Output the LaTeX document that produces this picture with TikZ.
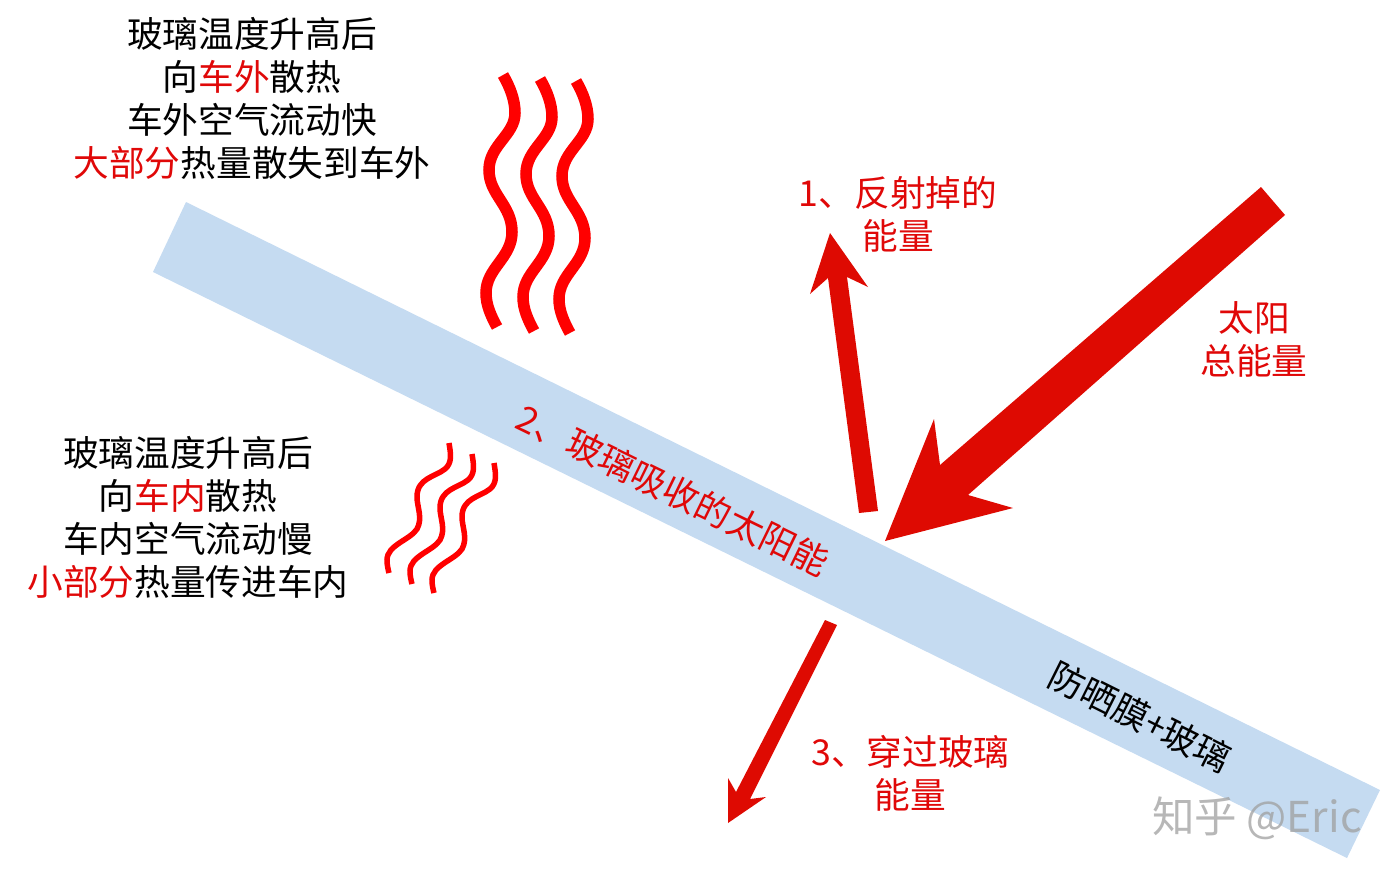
\documentclass[tikz,border=0pt]{standalone}
\usepackage{fontspec}
\setmainfont{Noto Sans CJK SC}
\usepackage{xcolor}
\definecolor{filmblue}{HTML}{C5DBF1}
\definecolor{arrowred}{HTML}{DE0A02}
\definecolor{textred}{HTML}{E00808}
\definecolor{heatred}{HTML}{FF0000}
\newcommand{\hot}[1]{\textcolor{textred}{#1}}
\tikzset{
    note/.style={inner sep=0pt,align=center,font=\fontsize{35.7}{43}\selectfont},
    rednote/.style={note,text=textred},
    bigwave/.style={draw=heatred,line width=11.5pt},
    smallwave/.style={draw=heatred,line width=5.5pt},
    ray/.style={fill=arrowred}
}
\begin{document}
\begin{tikzpicture}[x=1pt,y=-1pt]
    \useasboundingbox (0,0) rectangle (1397,876);
    \fill[filmblue] (186,202)--(153,272)--(1347,858)--(1380,790)--cycle;
    % heat going out
    \foreach \u/\v in {0/0,37/4,73/6}{
            \draw[bigwave,shift={(\u,\v)}] (503,75) .. controls (510,87) and (515,100) .. (515,113) .. controls (515,135) and (489,145) .. (489,170) .. controls (489,195) and (512,205) .. (512,232) .. controls (512,258) and (486,268) .. (486,293) .. controls (486,305) and (491,316) .. (497,327);
        }
    % heat going in
    \foreach \u/\v in {0/0,23/11,45/20}{
            \draw[smallwave,shift={(\u,\v)}] (449,443) .. controls (451,455) and (452,463) .. (445,469) .. controls (435,477) and (417,478) .. (417,497) .. controls (417,507) and (423,518) .. (417,529) .. controls (410,540) and (387,545) .. (387,560) .. controls (387,565) and (388,569) .. (389,573);
        }
    % the three rays
    \fill[ray] (1261,187)--(1285,215)--(968,495)--(1013,508)--(885,541)--(934,419)--(940,465)--cycle;
    \fill[ray] (859,513)--(878,511)--(847,277)--(868,287)--(830,233)--(810,294)--(828,278)--cycle;
    \fill[ray] (825,620)--(837,625)--(750,799)--(766,797)--(728,823)--(728,778)--(736,792)--cycle;
    % labels
    \node[note] (outnote) at (252,98) {玻璃温度升高后\\向\hot{车外}散热\\车外空气流动快\\\hot{大部分}热量散失到车外};
    \node[note] (innote) at (188,517) {玻璃温度升高后\\向\hot{车内}散热\\车内空气流动慢\\\hot{小部分}热量传进车内};
    \node[rednote] (reflected) at (898,214) {1、反射掉的\\能量};
    \node[rednote] (sun) at (1254,339.5) {太阳\\总能量};
    \node[rednote] (passed) at (910.5,773) {3、穿过玻璃\\能量};
    \node[rednote,rotate=-26] (absorbed) at (673,490) {2、玻璃吸收的太阳能};
    \node[note,rotate=-26.5] (film) at (1140,717) {防晒膜+玻璃};
    \node[note,text=gray!75,opacity=0.75,font=\fontsize{42.5}{48}\selectfont] (mark) at (1257,818) {知乎 @Eric};
\end{tikzpicture}
\end{document}
